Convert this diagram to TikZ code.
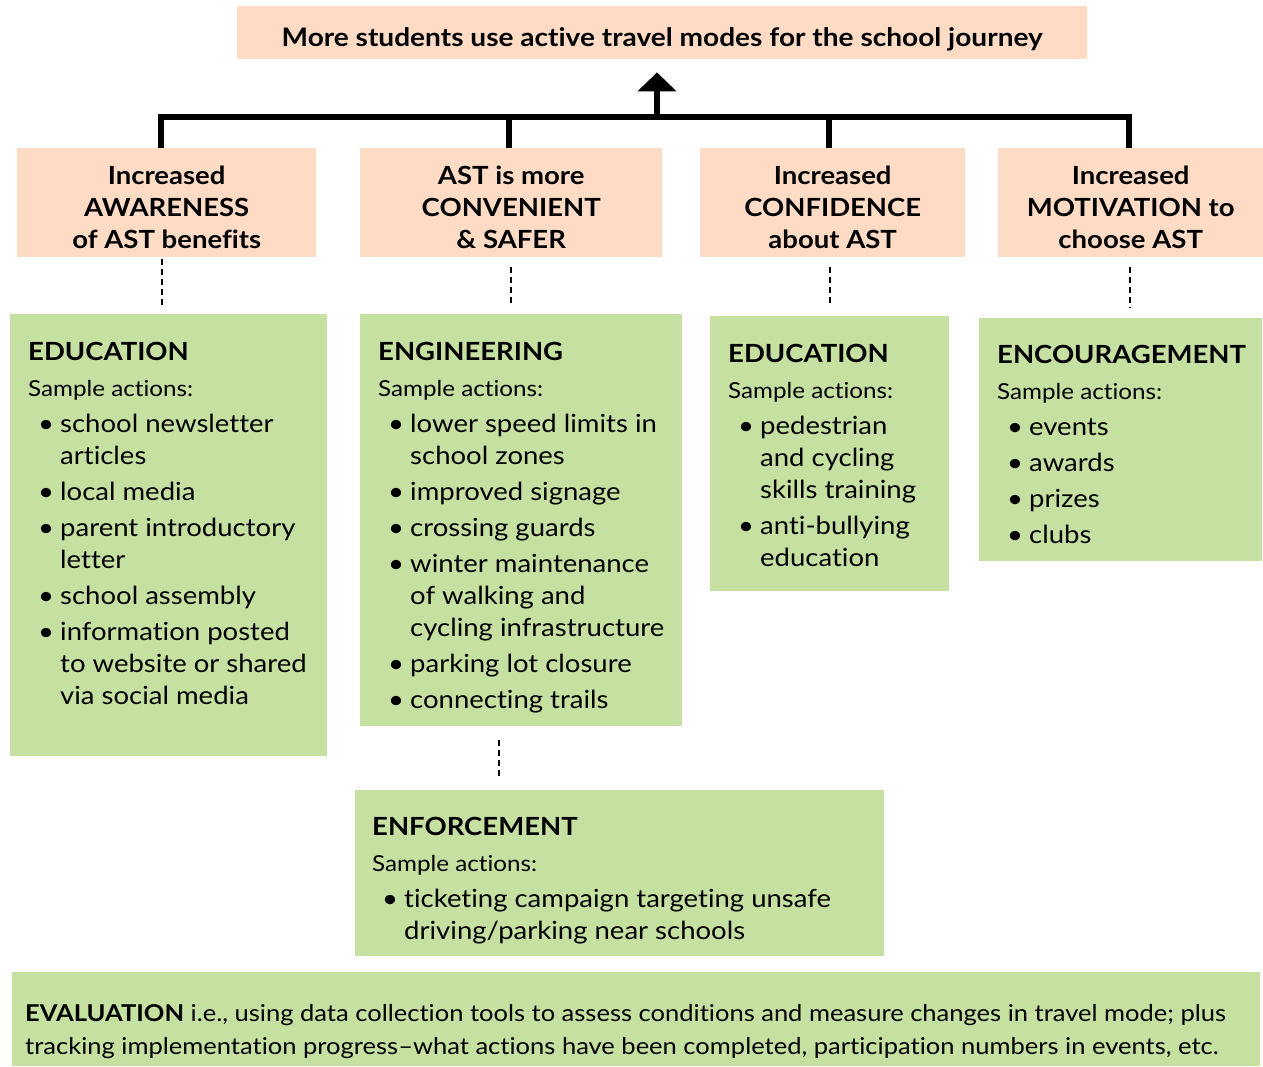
\documentclass[tikz,border=0pt]{standalone}
\usepackage{fontspec}
\setmainfont{Lato}[FakeStretch=1.1, Ligatures=NoCommon]
\usetikzlibrary{arrows.meta}
\definecolor{peach}{HTML}{FDDBC5}
\definecolor{leaf}{HTML}{C5E0A0}
\newcommand{\bitem}[1]{\par\noindent\hangindent=32pt\hangafter=1\makebox[32pt][l]{\hspace{10pt}\textbullet}#1\par}
\newcommand{\gcontent}[2]{\begin{minipage}[t]{700pt}\fontsize{25}{32}\selectfont\setlength{\parskip}{4pt}\setlength{\parindent}{0pt}\hyphenpenalty=10000%
{\fontsize{25}{32}\selectfont\bfseries #1}\par
{\fontsize{22}{32}\selectfont Sample actions:}\par
#2\end{minipage}}
\tikzset{
  pbox/.style={fill=peach, draw=none, inner sep=0pt, anchor=north west},
  ptext/.style={inner sep=0pt, align=center, font=\bfseries\fontsize{25}{32}\selectfont},
  gbox/.style={fill=leaf, draw=none, inner sep=0pt, anchor=north west},
  gtext/.style={inner sep=0pt, anchor=base west},
  bar/.style={line width=6pt, line join=miter},
  dashline/.style={line width=2pt, dash pattern=on 6pt off 4pt},
}
\begin{document}
\begin{tikzpicture}[x=1pt,y=-1pt]
\useasboundingbox (0,0) rectangle (1263,1067);
% goal
\node[pbox, minimum width=850pt, minimum height=53pt] (goal) at (237,6) {};
\node[ptext, font=\bfseries\fontsize{25.5}{32}\selectfont] (goalt) at ([yshift=-7pt]goal.center)
  {More students use active travel modes for the school journey};
% outcomes
\node[pbox, minimum width=299pt, minimum height=109pt] (r1) at (17,148) {};
\node[pbox, minimum width=302pt, minimum height=109pt] (r2) at (360,148) {};
\node[pbox, minimum width=265pt, minimum height=109pt] (r3) at (700,148) {};
\node[pbox, minimum width=265pt, minimum height=109pt] (r4) at (998,148) {};
\node[ptext] (r1t) at ([yshift=-5pt]r1.center) {Increased\\AWARENESS\\of AST benefits};
\node[ptext] (r2t) at ([yshift=-5pt]r2.center) {AST is more\\CONVENIENT\\\& SAFER};
\node[ptext] (r3t) at ([yshift=-5pt]r3.center) {Increased\\CONFIDENCE\\about AST};
\node[ptext] (r4t) at ([yshift=-5pt]r4.center) {Increased\\MOTIVATION to\\choose AST};
% anchor points on the boxes
\coordinate (n1) at ([xshift=-6pt]r1.north);
\coordinate (n2) at ([xshift=-2pt]r2.north);
\coordinate (n3) at ([xshift=-4pt]r3.north);
\coordinate (n4) at ([xshift=-2pt]r4.north);
\coordinate (s1) at ([xshift=-5pt]r1.south);
\coordinate (s2) at (r2.south);
\coordinate (s3) at ([xshift=-3pt]r3.south);
\coordinate (s4) at ([xshift=-1pt]r4.south);
% connector bar
\coordinate (hub) at (657,117);
\draw[bar] (n1) -- (n1 |- hub) -- (n4 |- hub) -- (n4);
\draw[bar] (n2) -- (n2 |- hub);
\draw[bar] (n3) -- (n3 |- hub);
\draw[bar, -{Triangle[width=38pt,length=19pt]}, shorten >=13pt] (hub) -- (hub |- goal.south);
% green boxes
\node[gbox, minimum width=317pt, minimum height=442pt] (g1) at (10,314) {};
\node[gbox, minimum width=322pt, minimum height=412pt] (g2) at (360,314) {};
\node[gbox, minimum width=239pt, minimum height=275pt] (g3) at (710,316) {};
\node[gbox, minimum width=283pt, minimum height=243pt] (g4) at (979,318) {};
\node[gbox, minimum width=529pt, minimum height=166pt] (g5) at (355,790) {};
\node[gbox, minimum width=1248pt, minimum height=94pt] (g6) at (12,972) {};
% dashed connectors
\draw[dashline, shorten <=2pt, shorten >=8pt] (s1) -- (s1 |- g1.north);
\draw[dashline, shorten <=10pt, shorten >=8pt] (s2) -- (s2 |- g2.north);
\draw[dashline, shorten <=10pt, shorten >=10pt] (s3) -- (s3 |- g3.north);
\draw[dashline, shorten <=10pt, shorten >=10pt] (s4) -- (s4 |- g4.north);
\coordinate (d5) at (499,726);
\draw[dashline, shorten <=14pt, shorten >=12pt] (d5) -- (d5 |- g5.north);
% texts
\node[gtext] (t1) at (28,360) {\gcontent{EDUCATION}{%
\bitem{school newsletter\newline articles}
\bitem{local media}
\bitem{parent introductory\newline letter}
\bitem{school assembly}
\bitem{information posted\newline to website or shared\newline via social media}}};
\node[gtext] (t2) at (378,360) {\gcontent{ENGINEERING}{%
\bitem{lower speed limits in\newline school zones}
\bitem{improved signage}
\bitem{crossing guards}
\bitem{winter maintenance\newline of walking and\newline cycling infrastructure}
\bitem{parking lot closure}
\bitem{connecting trails}}};
\node[gtext] (t3) at (728,362) {\gcontent{EDUCATION}{%
\bitem{pedestrian\newline and cycling\newline skills training}
\bitem{anti-bullying\newline education}}};
\node[gtext] (t4) at (997,363) {\gcontent{ENCOURAGEMENT}{%
\bitem{events}
\bitem{awards}
\bitem{prizes}
\bitem{clubs}}};
\node[gtext] (t5) at (372,835) {\gcontent{ENFORCEMENT}{%
\bitem{ticketing campaign targeting unsafe\newline driving/parking near schools}}};
\node[gtext] (t6) at (25,1021) {\begin{minipage}[t]{1300pt}\fontsize{23.2}{33}\selectfont
\textbf{EVALUATION} i.e., using data collection tools to assess conditions and measure changes in travel mode; plus\\
tracking implementation progress–what actions have been completed, participation numbers in events, etc.\end{minipage}};
\end{tikzpicture}
\end{document}
